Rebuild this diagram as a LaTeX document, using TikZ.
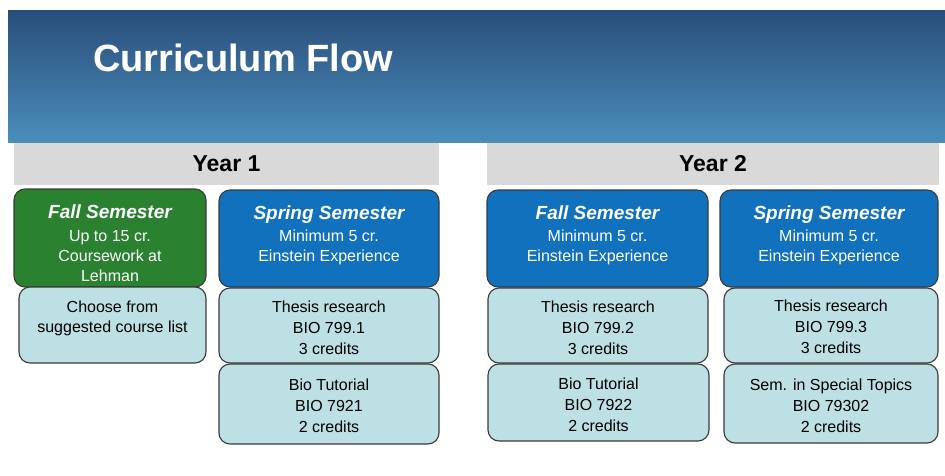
\documentclass[tikz,border=0pt]{standalone}
\usepackage{fontspec}
\setmainfont{Liberation Sans}
\usetikzlibrary{fit}

\definecolor{hdrtop}{HTML}{2A4E7B}
\definecolor{hdrbot}{HTML}{4B8EBB}
\definecolor{bargrey}{HTML}{D9D9D9}
\definecolor{termgreen}{HTML}{2A8231}
\definecolor{termblue}{HTML}{1271BD}
\definecolor{coursecyan}{HTML}{BDE0E4}
\definecolor{boxline}{HTML}{3A3A3A}

\begin{document}
\begin{tikzpicture}[x=1pt,y=-1pt,
  boxbase/.style={draw=boxline, line width=1.1pt, rounded corners=11pt, inner sep=0pt},
  fallbox/.style={boxbase, fill=termgreen},
  termbox/.style={boxbase, fill=termblue},
  coursebox/.style={boxbase, fill=coursecyan},
  yearbar/.style={fill=bargrey, inner sep=0pt},
  yeartxt/.style={font=\fontsize{23}{25}\selectfont\bfseries, text=black},
  % multi-line texts are placed by the baseline of their last line
  termtitle/.style={anchor=base, inner sep=0pt, text=white,
    font=\fontsize{19}{20}\selectfont\bfseries\itshape},
  termbody/.style={anchor=base, inner sep=0pt, text=white, align=center,
    font=\fontsize{16}{20}\selectfont},
  coursetxt/.style={anchor=base, inner sep=0pt, text=black, align=center,
    font=\fontsize{16}{21}\selectfont}]

\useasboundingbox (0,0) rectangle (945,476);

% header band with title
\node[fit={(8,11) (945,143)}, inner sep=0pt, top color=hdrtop, bottom color=hdrbot] (hdr) {};
\node[anchor=base west, inner sep=0pt, text=white,
      font=\fontsize{38}{40}\selectfont\bfseries] (title) at (93,72) {Curriculum Flow};

% year bars
\node[yearbar, fit={(14,143) (439,185)}] (y1) {};
\node[yeartxt] (y1t) at (y1.center) {Year 1};
\node[yearbar, fit={(487,143) (939,185)}] (y2) {};
\node[yeartxt] (y2t) at (y2.center) {Year 2};

% semester boxes
\node[fallbox, fit={(14,189) (206,287)}] (f1) {};
\node[termtitle] (f1t) at ([yshift=-30pt]f1.north) {Fall Semester};
\node[termbody] (f1b) at ([yshift=-93pt]f1.north) {Up to 15 cr.\\Coursework at\\Lehman};

\node[termbox, fit={(219,190) (439,287)}] (s1) {};
\node[termtitle] (s1t) at ([yshift=-30pt]s1.north) {Spring Semester};
\node[termbody] (s1b) at ([yshift=-72pt]s1.north) {Minimum 5 cr.\\Einstein Experience};

\node[termbox, fit={(487,190) (708,287)}] (f2) {};
\node[termtitle] (f2t) at ([yshift=-30pt]f2.north) {Fall Semester};
\node[termbody] (f2b) at ([yshift=-72pt]f2.north) {Minimum 5 cr.\\Einstein Experience};

\node[termbox, fit={(720,190) (938,287)}] (s2) {};
\node[termtitle] (s2t) at ([yshift=-30pt]s2.north) {Spring Semester};
\node[termbody] (s2b) at ([yshift=-72pt]s2.north) {Minimum 5 cr.\\Einstein Experience};

% course boxes
\node[coursebox, fit={(19,287) (206,363)}] (c1) {};
\node[coursetxt, font=\fontsize{16}{20}\selectfont] (c1t) at ([yshift=-46pt]c1.north) {Choose from\\suggested course list};

\node[coursebox, fit={(219,288) (439,363)}] (r1) {};
\node[coursetxt] (r1t) at ([yshift=-67pt]r1.north) {Thesis research\\BIO 799.1\\3 credits};

\node[coursebox, fit={(219,364) (439,444)}] (t1) {};
\node[coursetxt] (t1t) at ([yshift=-69pt]t1.north) {Bio Tutorial\\BIO 7921\\2 credits};

\node[coursebox, fit={(488,288) (708,363)}] (r2) {};
\node[coursetxt] (r2t) at ([yshift=-67pt]r2.north) {Thesis research\\BIO 799.2\\3 credits};

\node[coursebox, fit={(488,364) (709,441)}] (t2) {};
\node[coursetxt] (t2t) at ([yshift=-68pt]t2.north) {Bio Tutorial\\BIO 7922\\2 credits};

\node[coursebox, fit={(724,288) (938,363)}] (r3) {};
\node[coursetxt] (r3t) at ([yshift=-66pt]r3.north) {Thesis research\\BIO 799.3\\3 credits};

\node[coursebox, fit={(724,364) (938,443)}] (m3) {};
\node[coursetxt] (m3t) at ([yshift=-69pt]m3.north) {Sem. in Special Topics\\BIO 79302\\2 credits};

\end{tikzpicture}
\end{document}
